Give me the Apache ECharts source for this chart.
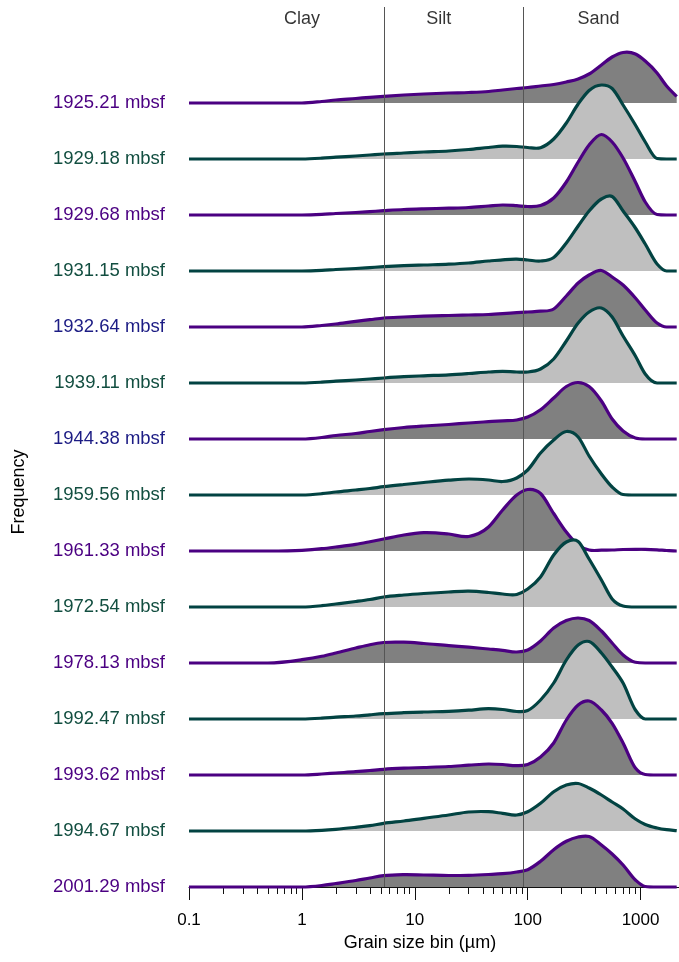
<!DOCTYPE html>
<html>
<head>
<meta charset="utf-8">
<script src="https://cdn.jsdelivr.net/npm/echarts@6/dist/echarts.min.js"></script>
<style>
html, body { margin: 0; padding: 0; background: #fff; }
#cc { width: 679px; height: 962px; }
</style>
</head>
<body>
<div id="cc"></div>
<script>
// grain size bins (µm)
var sizes = [0.1, 0.5, 1, 1.5, 2, 3, 4, 5.3, 8, 12, 20, 30, 45, 60, 80, 100, 130, 170, 220, 280, 350, 450, 560, 700, 900, 1100, 1400, 1700, 2090];

var depths = ['1925.21 mbsf', '1929.18 mbsf', '1929.68 mbsf', '1931.15 mbsf', '1932.64 mbsf',
              '1939.11 mbsf', '1944.38 mbsf', '1959.56 mbsf', '1961.33 mbsf', '1972.54 mbsf',
              '1978.13 mbsf', '1992.47 mbsf', '1993.62 mbsf', '1994.67 mbsf', '2001.29 mbsf'];

// relative frequency per bin, one list per depth
var f1925 = [0,0,0,1.5,3,4.5,5.7,6.7,8,9,10,10.5,11.5,13,14.5,15.5,17,18.5,21,24,29,38,46,50.5,49,42,30,17,6.5];
var f1929a = [0,0,0,0.8,1.8,3,4,5,6,7,8,9.5,11.5,12.8,12.5,11.5,11.3,20,36,55,68.5,74,70.5,54,34,17,0.5,0,0];
var f1929b = [0,0,0,0.6,1.5,2.5,3.4,4.3,5.5,6.2,6.8,7.5,9,10,9.3,8.5,9.5,17,33,53,70,80.5,73,57,33,13,0.5,0,0];
var f1931 = [0,0,0,0.6,1.5,2.5,3.4,4.3,5.3,6,6.8,8,10,11.2,11.8,11,10,13.5,28,45,60,72,74.5,60,43,27,7,0,0];
var f1932 = [0,0,0,1.5,3,5.7,7.3,9,10,10.8,11.5,12,12.5,13.3,14.3,15,15.8,18,31,44,52,56.5,50,42,29,17,4,0,0];
var f1939 = [0,0,0,0.8,1.8,3,4,5,6.3,7.2,8.2,9.5,11,11.7,11,11,14,24,42,60,71,75,66,47,27,9,0,0,0];
var f1944 = [0,0,0,1.5,3.5,5.5,7.5,9.3,11.5,13,14.5,16,17.3,18.2,19,22,29.3,41,52.5,56.5,52.5,38,20,8,1,0,0,0,0];
var f1959 = [0,0,0,1.3,3,5,6.5,8.3,10.5,12.5,14.8,16,15,13.5,17,25,42,55,63.5,58,39,21,8,0.5,0,0,0,0,0];
var f1961 = [0,0,0.7,2.3,4,6.7,9.3,12,16,18.3,17,14.5,24,41,56,61.5,57.5,37.5,19,6,1,0.8,1,1.5,1.7,1.7,1.2,0.5,0];
var f1972 = [0,0,0,1.3,3,5.5,7.5,10,12,13.5,15,15.8,14.5,13,12.5,18,30,52,65,65.5,48,27,8,1,0,0,0,0,0];
var f1978 = [0,0,3.3,6.7,10,15,18.3,20.5,20.8,19.5,17.3,15.8,14,12.7,11,13,22,35,42.5,45,42.5,32,20,8,0.7,0,0,0,0];
var f1992 = [0,0,0,0.8,1.8,3,4.2,5.3,6.3,7,7.7,8.8,10.3,9.5,7.5,8.5,19,36,59,74,77.5,66,52,36,9,0,0,0,0];
var f1993 = [0,0,0,1,2,3.3,4.5,5.7,6.8,7.5,8.5,9.8,11,10.5,9.3,10.5,18,32,55,70,74,65,51.7,32,7,0.5,0,0,0];
var f1994 = [0,0,0,0.7,1.7,3.7,5.3,7.7,10,12.7,16,19,19.3,17.7,16,19.3,27.7,39.3,46,47.5,43,36,29,22,12,6.5,3,1.3,0.3];
var f2001 = [0,0,0,1.5,3.5,6.5,9,11.3,12.3,12,11.5,11.7,12.5,13.3,15,17.3,25.7,37.3,45.7,50,50.5,42,33,22,7,0.5,0,0,0];

var freqs = [f1925, f1929a, f1929b, f1931, f1932, f1939, f1944, f1959, f1961, f1972, f1978, f1992, f1993, f1994, f2001];

var classNames = ['Clay', 'Silt', 'Sand'];
var classLabelAt = [1, 16.3, 424];
var classLimits = [5.4, 92];
var majorTicks = [0.1, 1, 10, 100, 1000];
var minorTicks = [0.2,0.3,0.4,0.5,0.6,0.7,0.8,0.9, 2,3,4,5,6,7,8,9, 20,30,40,50,60,70,80,90, 200,300,400,500,600,700,800,900];

var step = 56;           // vertical spacing between ridges (frequency units)
var n = depths.length;
var font = 'Liberation Sans, Arial, Helvetica, sans-serif';

var purple = '#4B0082', teal = '#024342';
var labelColors = {};
depths.forEach(function (d, i) {
    labelColors[d] = i % 2 ? '#124E40' : purple;
});
labelColors['1932.64 mbsf'] = '#1C1C84';
labelColors['1944.38 mbsf'] = '#1C1C84';

// smooth cubic through pixel points; flat where the frequency is zero,
// and no dipping below the baseline next to those points
function curvePath(pts, vals) {
    var len = pts.length, dx = [], m = [], t = [], i;
    for (i = 0; i < len - 1; i++) {
        dx[i] = pts[i + 1][0] - pts[i][0];
        m[i] = (pts[i + 1][1] - pts[i][1]) / dx[i];
    }
    t[0] = vals[0] === 0 ? 0 : m[0];
    t[len - 1] = vals[len - 1] === 0 ? 0 : m[len - 2];
    for (i = 1; i < len - 1; i++) {
        t[i] = vals[i] === 0 ? 0 : (m[i - 1] * dx[i] + m[i] * dx[i - 1]) / (dx[i - 1] + dx[i]);
    }
    for (i = 0; i < len - 1; i++) {
        if (vals[i] !== 0 && vals[i + 1] !== 0) continue;
        if (m[i] === 0) { t[i] = 0; t[i + 1] = 0; continue; }
        var a = t[i] / m[i], b = t[i + 1] / m[i];
        if (a < 0) { t[i] = 0; a = 0; }
        if (b < 0) { t[i + 1] = 0; b = 0; }
        var s = a * a + b * b;
        if (s > 9) {
            var k = 3 / Math.sqrt(s);
            t[i] = k * a * m[i];
            t[i + 1] = k * b * m[i];
        }
    }
    var d = 'M' + pts[0][0] + ',' + pts[0][1];
    for (i = 0; i < len - 1; i++) {
        var h = dx[i] / 3;
        d += 'C' + (pts[i][0] + h) + ',' + (pts[i][1] + t[i] * h) + ',' +
             (pts[i + 1][0] - h) + ',' + (pts[i + 1][1] - t[i + 1] * h) + ',' +
             pts[i + 1][0] + ',' + pts[i + 1][1];
    }
    return d;
}

var series = depths.map(function (d, i) {
    var base = (n - 1 - i) * step;
    var odd = i % 2 === 1;
    return {
        name: d,
        type: 'custom',
        silent: true,
        z: 2,
        data: [[sizes[0], base]],
        renderItem: function (params, api) {
            var pts = sizes.map(function (s, k) { return api.coord([s, base + freqs[i][k]]); });
            var b0 = api.coord([sizes[0], base]);
            var b1 = api.coord([sizes[sizes.length - 1], base]);
            var line = curvePath(pts, freqs[i]);
            return {
                type: 'group',
                children: [{
                    type: 'path',
                    shape: { pathData: line + 'L' + b1[0] + ',' + b1[1] + 'L' + b0[0] + ',' + b0[1] + 'Z' },
                    style: { fill: odd ? '#BFBFBF' : '#808080', stroke: null }
                }, {
                    type: 'path',
                    shape: { pathData: line },
                    style: { fill: null, stroke: odd ? teal : purple, lineWidth: 3.2, lineJoin: 'round' }
                }]
            };
        }
    };
});

series.push({
    type: 'scatter',
    symbolSize: 0,
    silent: true,
    z: 5,
    data: classNames.map(function (c, i) { return { name: c, value: [classLabelAt[i], 868] }; }),
    label: { show: true, position: 'inside', formatter: '{b}', color: '#000', fontSize: 18, fontFamily: font },
    markLine: {
        silent: true,
        symbol: ['none', 'none'],
        label: { show: false },
        lineStyle: { color: '#555', width: 1, type: 'solid' },
        data: classLimits.map(function (v) { return { xAxis: v }; })
    }
});

var logAxis = {
    type: 'log',
    logBase: 10,
    min: 0.1,
    max: 2190,
    splitLine: { show: false }
};

var chart = echarts.init(document.getElementById('cc'));

chart.setOption({
    animation: false,
    backgroundColor: '#fff',
    grid: { left: 189, right: -2, top: 7, bottom: 75, containLabel: false },
    xAxis: [
        Object.assign({}, logAxis, {
            axisLine: { show: true, onZero: false, lineStyle: { color: '#111', width: 1 } },
            axisTick: { show: true, inside: false, length: 13, customValues: majorTicks,
                        lineStyle: { color: '#111', width: 1 } },
            axisLabel: { margin: 25, fontSize: 17, color: '#000', fontFamily: font,
                         customValues: majorTicks,
                         formatter: function (v) { return String(v); } },
            name: 'Grain size bin (µm)',
            nameLocation: 'middle',
            nameGap: 47,
            nameTextStyle: { fontSize: 18, color: '#000', fontFamily: font, padding: [0, 28, 0, 0] }
        }),
        Object.assign({}, logAxis, {
            position: 'bottom',
            axisLine: { show: false, onZero: false },
            axisTick: { show: true, inside: false, length: 7, customValues: minorTicks,
                        lineStyle: { color: '#111', width: 1 } },
            axisLabel: { show: false }
        })
    ],
    yAxis: {
        type: 'value',
        min: 0,
        max: 880,
        interval: step,
        axisLine: { show: false },
        axisTick: { show: false },
        splitLine: { show: false },
        axisLabel: {
            margin: 24,
            fontSize: 18.5,
            fontFamily: font,
            formatter: function (v) {
                var d = depths[n - 1 - Math.round(v / step)];
                return (v % step === 0 && d) ? d : '';
            },
            color: function (v) {
                var d = depths[n - 1 - Math.round(v / step)];
                return labelColors[d] || '#000';
            }
        }
    },
    graphic: [{
        type: 'text',
        x: 19,
        y: 492,
        rotation: Math.PI / 2,
        style: { text: 'Frequency', fontSize: 18, fontFamily: font, fill: '#000',
                 textAlign: 'center', textVerticalAlign: 'middle' }
    }],
    series: series
});
</script>
</body>
</html>
